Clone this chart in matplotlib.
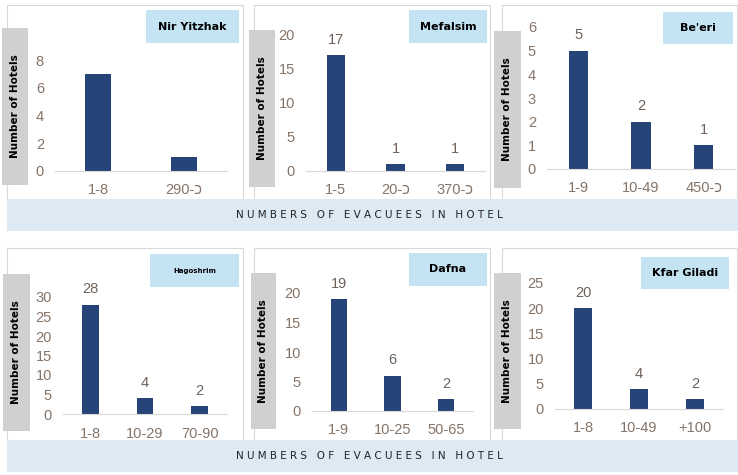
import matplotlib
matplotlib.use('Agg')
import matplotlib.pyplot as plt
from matplotlib.patches import Rectangle

# data
towns = ['Nir Yitzhak', 'Mefalsim', "Be'eri", 'Hagoshrim', 'Dafna', 'Kfar Giladi']
cats_nir = ['1-8', '290-כ']
vals_nir = [7, 1]
cats_mef = ['1-5', '20-כ', '370-כ']
vals_mef = [17, 1, 1]
cats_beeri = ['1-9', '10-49', '450-כ']
vals_beeri = [5, 2, 1]
cats_hag = ['1-8', '10-29', '70-90']
vals_hag = [28, 4, 2]
cats_dafna = ['1-9', '10-25', '50-65']
vals_dafna = [19, 6, 2]
cats_kfar = ['1-8', '10-49', '+100']
vals_kfar = [20, 4, 2]
y_max = [8, 20, 6, 30, 20, 25]
y_step = [2, 5, 1, 5, 5, 5]
show_vals = [False, True, True, True, True, True]

cats = [cats_nir, cats_mef, cats_beeri, cats_hag, cats_dafna, cats_kfar]
vals = [vals_nir, vals_mef, vals_beeri, vals_hag, vals_dafna, vals_kfar]

W, H = 738, 475
BAR = '#264478'
TICK = '#857468'
fam = ['Liberation Sans Narrow', 'Liberation Sans', 'DejaVu Sans']

fig = plt.figure(figsize=(W / 100, H / 100), dpi=100)
fig.patch.set_facecolor('white')


def box(x, y, w, h, fc='none', ec='none', lw=0, z=1):
    fig.add_artist(Rectangle((x / W, 1 - (y + h) / H), w / W, h / H,
                             transform=fig.transFigure, facecolor=fc,
                             edgecolor=ec, lw=lw, zorder=z))


def ftext(x, y, s, **kw):
    fig.text(x / W, 1 - y / H, s, **kw)


# layout in pixels: panel frame, y-label box, title box, plot area
frames = [(7, 5, 236, 200), (254, 5, 236, 200), (502, 5, 235, 200),
          (7, 248, 236, 200), (254, 248, 236, 200), (502, 248, 235, 200)]
ylab_boxes = [(2, 28, 26, 157), (249, 30, 26, 157), (494, 31, 27, 157),
              (3, 274, 27, 157), (251, 273, 25, 156), (494, 273, 27, 156)]
title_boxes = [(146, 10, 93, 33), (409, 10, 78, 33), (663, 12, 70, 32),
               (150, 254, 89, 33), (409, 253, 78, 33), (641, 257, 88, 32)]
title_size = [8, 8, 8, 5, 8, 8]
plots = [(55, 60, 172, 111), (306, 35, 179, 136), (547, 27, 188, 142),
         (63, 297, 164, 117), (312, 293, 161, 118), (555, 283, 168, 126)]

for i in range(6):
    box(*frames[i], ec='#d9d9d9', lw=0.8, z=0.5)
    box(*ylab_boxes[i], fc='#d0d0d0', z=2)
    x, y, w, h = ylab_boxes[i]
    ftext(x + w / 2, y + h / 2, 'Number of Hotels', rotation=90, ha='center',
          va='center', fontsize=7.5, fontweight='bold', family='DejaVu Sans',
          zorder=3)
    box(*title_boxes[i], fc='#c4e4f4', z=2)
    x, y, w, h = title_boxes[i]
    ftext(x + w / 2, y + h / 2, towns[i], ha='center', va='center',
          fontsize=title_size[i], fontweight='bold', family='DejaVu Sans',
          zorder=3)

    x, y, w, h = plots[i]
    ax = fig.add_axes([x / W, 1 - (y + h) / H, w / W, h / H])
    ax.set_facecolor('none')
    xs = range(len(cats[i]))
    ax.bar(xs, vals[i], width=0.31, color=BAR, zorder=2)
    ax.set_xlim(-0.5, len(cats[i]) - 0.5)
    ax.set_ylim(0, y_max[i])
    ax.set_yticks(range(0, y_max[i] + 1, y_step[i]))
    ax.set_xticks(list(xs))
    ax.set_xticklabels(cats[i], family=fam)
    ax.tick_params(length=0, colors=TICK, labelsize=10.5)
    ax.tick_params(axis='x', pad=9)
    ax.tick_params(axis='y', pad=8)
    for lbl in ax.get_yticklabels():
        lbl.set_family(fam)
    for s in ['top', 'right', 'left']:
        ax.spines[s].set_visible(False)
    ax.spines['bottom'].set_color('#d9d9d9')
    if show_vals[i]:
        for xv, v in zip(xs, vals[i]):
            ax.annotate(str(v), (xv, v), xytext=(0, 6), textcoords='offset points',
                        ha='center', va='bottom', fontsize=10.5, color='#6e625a',
                        family=fam, annotation_clip=False)

# bands with the shared x-axis title
label = '   '.join(' '.join(word) for word in 'NUMBERS OF EVACUEES IN HOTEL'.split())
for y in (199, 440):
    box(7, y, 731, 32, fc='#dde9f3', z=4)
    ftext(369, y + 16, label, ha='center', va='center', fontsize=7.5,
          color='#222222', family='DejaVu Sans', zorder=5)

fig.savefig('out.png', dpi=100, facecolor='white')
